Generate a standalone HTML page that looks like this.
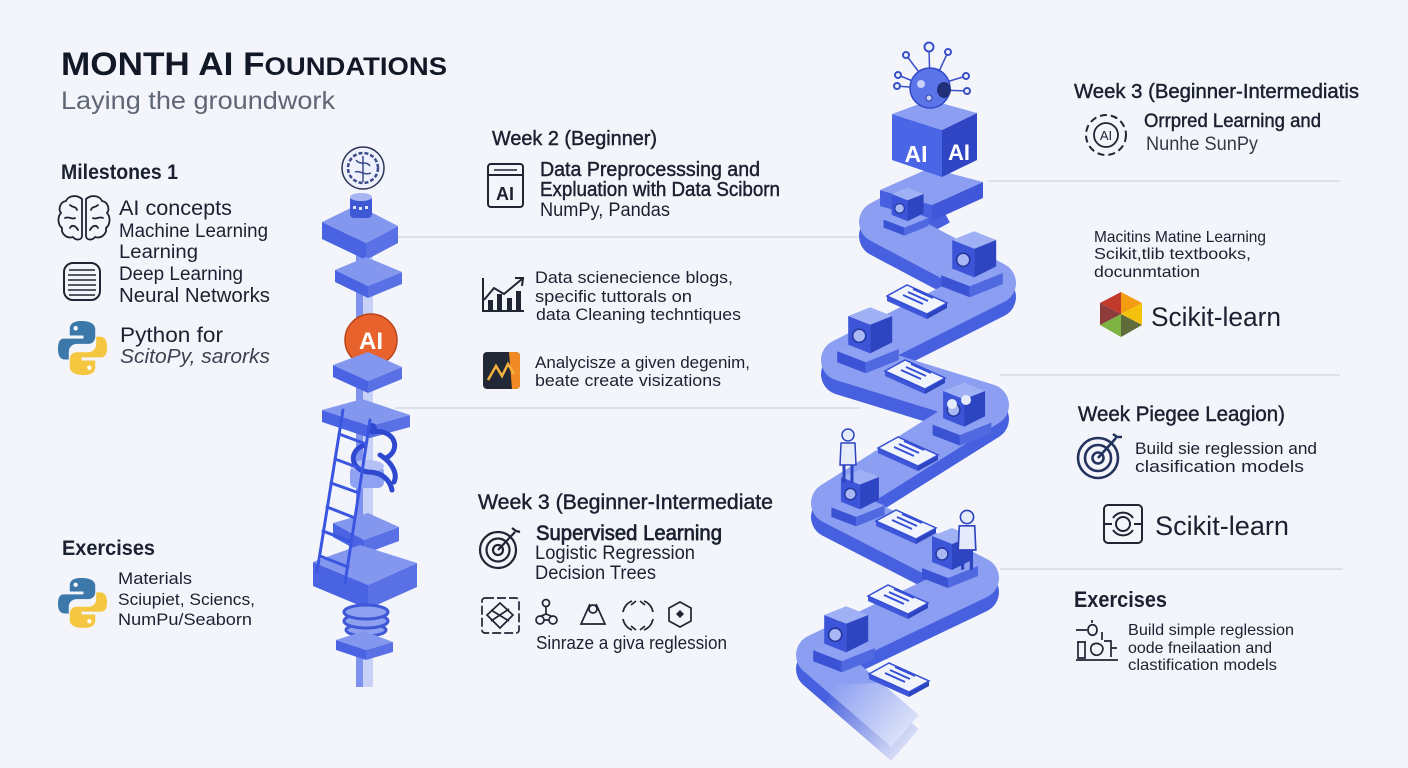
<!DOCTYPE html>
<html><head><meta charset="utf-8">
<style>
html,body{margin:0;padding:0;background:#f3f5fb;width:1408px;height:768px;overflow:hidden}
svg{display:block}
text{font-family:"Liberation Sans",sans-serif;fill:#1b2130}
.m{stroke:#1b2130;stroke-width:0.45}
</style></head><body>
<svg width="1408" height="768" viewBox="0 0 1408 768" xmlns="http://www.w3.org/2000/svg">
<defs>
<g id="mach">
<polygon points="-28,12 2,0 28,10 -2,22" fill="#8fa1f2"/>
<polygon points="-28,12 -2,22 -2,32 -28,22" fill="#3a52d4"/>
<polygon points="-2,22 28,10 28,20 -2,32" fill="#5068e0"/>
<polygon points="-18,-20 2,-28 22,-20 2,-12" fill="#9fb0f5"/>
<polygon points="-18,-20 2,-12 2,14 -18,6" fill="#3c55d8"/>
<polygon points="2,-12 22,-20 22,4 2,14" fill="#2e45c2"/>
<circle cx="-8" cy="-2" r="6" fill="#a9b7f5" stroke="#24389e" stroke-width="1.5"/>
</g>
<g id="paper">
<polygon points="-30,-4 10,14 10,19 -30,1" fill="#3e57da"/>
<polygon points="10,14 30,3 30,8 10,19" fill="#2d44c0"/>
<polygon points="-30,-4 -10,-15 30,3 10,14" fill="#f2f4fd" stroke="#3550d4" stroke-width="1.5"/>
<path d="M-14,-5 L6,4 M-9,-8 L11,1 M-4,-11 L16,-2" stroke="#3550d4" stroke-width="2"/>
</g>
<g id="person">
<circle cx="0" cy="-30" r="6" fill="#e6ebfc" stroke="#2d44c0" stroke-width="1.5"/>
<path d="M-7,-22 L7,-22 L8,0 L-8,0 Z" fill="#e6ebfc" stroke="#2d44c0" stroke-width="1.5"/>
<path d="M-4,0 L-4,18 M4,0 L4,18" stroke="#2d44c0" stroke-width="3"/>
</g>
<g id="py">
<path d="M24,0 C14,0 12,4 12,8 L12,14 L26,14 L26,17 L6,17 C1,17 0,22 0,27 C0,33 2,37 7,37 L11,37 L11,30 C11,25 15,22 19,22 L31,22 C35,22 38,19 38,15 L38,8 C38,3 33,0 24,0 Z" fill="#3c78aa"/>
<circle cx="18" cy="7" r="2.2" fill="#fff"/>
<path d="M26,52 C36,52 38,48 38,44 L38,38 L24,38 L24,35 L44,35 C49,35 50,30 50,25 C50,19 48,15 43,15 L39,15 L39,22 C39,27 35,30 31,30 L19,30 C15,30 12,33 12,37 L12,44 C12,49 17,52 26,52 Z" fill="#f5c640"/>
<circle cx="32" cy="45" r="2.2" fill="#fff"/>
</g>
<linearGradient id="fade" gradientUnits="userSpaceOnUse" x1="835" y1="680" x2="910" y2="742">
<stop offset="0" stop-color="#f3f5fb" stop-opacity="0"/>
<stop offset="1" stop-color="#f3f5fb" stop-opacity="0.85"/>
</linearGradient>
</defs>

<rect width="1408" height="768" fill="#f3f5fb"/>

<g stroke="#d5dae6" stroke-width="1.5">
<line x1="988" y1="181" x2="1340" y2="181"/>
<line x1="395" y1="237" x2="858" y2="237"/>
<line x1="1000" y1="375" x2="1340" y2="375"/>
<line x1="395" y1="408" x2="860" y2="408"/>
<line x1="1000" y1="569" x2="1343" y2="569"/>
</g>

<!-- ===== TOWER ===== -->
<rect x="356" y="225" width="17" height="462" fill="#c8d1f7"/>
<rect x="356" y="225" width="7" height="462" fill="#7f93ee"/>

<polygon points="322,222 366,243 366,260 322,239" fill="#4963e2"/>
<polygon points="366,243 398,226 398,243 366,260" fill="#5a71e6"/>
<polygon points="322,222 357,205 398,226 366,243" fill="#8497ef"/>
<polygon points="335,270 368,286 368,298 335,282" fill="#4963e2"/>
<polygon points="368,286 402,272 402,284 368,298" fill="#5a71e6"/>
<polygon points="335,270 366,257 402,272 368,286" fill="#8497ef"/>
<circle cx="371" cy="340" r="26" fill="#e8622d" stroke="#b8441a" stroke-width="1.5"/>
<text x="371" y="349" font-size="24" font-weight="700" text-anchor="middle" style="fill:#fff">AI</text>
<polygon points="333,365 368,381 368,393 333,377" fill="#4963e2"/>
<polygon points="368,381 402,367 402,379 368,393" fill="#5a71e6"/>
<polygon points="333,365 368,352 402,367 368,381" fill="#8497ef"/>
<polygon points="322,410 370,426 370,438 322,422" fill="#4963e2"/>
<polygon points="370,426 410,415 410,427 370,438" fill="#5a71e6"/>
<polygon points="322,410 362,399 410,415 370,426" fill="#8497ef"/>
<rect x="350" y="466" width="34" height="22" rx="6" fill="#8fa1f2"/>
<ellipse cx="367" cy="466" rx="17" ry="6" fill="#b5c1f6"/>
<path d="M372,432 C395,428 402,450 386,458 M365,445 C348,450 350,470 368,472 C382,472 390,480 392,490 M380,455 C392,462 398,474 394,482" stroke="#2f48d0" stroke-width="5" fill="none" stroke-linecap="round"/>
<circle cx="372" cy="428" r="5" fill="#2f48d0"/>
<polygon points="333,523 364,540 364,554 333,537" fill="#4963e2"/>
<polygon points="364,540 399,527 399,541 364,554" fill="#5a71e6"/>
<polygon points="333,523 368,513 399,527 364,540" fill="#8497ef"/>
<polygon points="313,562 368,585 368,609 313,586" fill="#4963e2"/>
<polygon points="368,585 417,563 417,587 368,609" fill="#5a71e6"/>
<polygon points="313,562 360,545 417,563 368,585" fill="#8497ef"/>
<g stroke="#3a56e0" stroke-width="3" stroke-linecap="round">
<line x1="343" y1="410" x2="317" y2="572"/>
<line x1="370" y1="420" x2="345" y2="583"/>
<line x1="339" y1="434" x2="366" y2="444"/>
<line x1="335" y1="459" x2="362" y2="469"/>
<line x1="331" y1="483" x2="359" y2="493"/>
<line x1="327" y1="507" x2="355" y2="518"/>
<line x1="323" y1="531" x2="351" y2="542"/>
<line x1="320" y1="556" x2="348" y2="567"/>
</g>
<g fill="#8ea0f0" stroke="#3f58d6" stroke-width="3">
<ellipse cx="366" cy="630" rx="20" ry="6"/>
<ellipse cx="366" cy="621" rx="22" ry="7"/>
<ellipse cx="366" cy="612" rx="22" ry="7"/>
</g>
<polygon points="336,640 366,650 366,660 336,650" fill="#4963e2"/>
<polygon points="366,650 393,642 393,652 366,660" fill="#5a71e6"/>
<polygon points="336,640 364,631 393,642 366,650" fill="#8497ef"/>
<rect x="350" y="196" width="22" height="22" rx="4" fill="#3f58d6"/>
<ellipse cx="361" cy="197" rx="11" ry="4" fill="#a9b6f4"/>
<g fill="#dfe5fb"><rect x="353" y="206" width="3" height="3"/><rect x="359" y="207" width="3" height="3"/><rect x="365" y="206" width="3" height="3"/></g>
<circle cx="363" cy="168" r="21" fill="#eef1fb" stroke="#2c3557" stroke-width="1.5"/>
<circle cx="363" cy="168" r="15" fill="none" stroke="#3a4a8a" stroke-width="2.5" stroke-dasharray="4 2"/>
<path d="M356,160 C360,166 366,160 370,166 M355,172 C360,170 364,176 371,173 M363,156 L363,182" stroke="#3a4a8a" stroke-width="1.5" fill="none"/>

<!-- ===== RIBBON PATH ===== -->
<polyline points="940,204 880,236 995,297 842,374 988,419 832,517 978,592 817,669 905,745" fill="none" stroke="#4760df" stroke-width="42" stroke-linejoin="round"/>
<polyline points="940,190 880,222 995,283 842,360 988,405 832,503 978,578 817,655 905,731" fill="none" stroke="#8b9ef1" stroke-width="42" stroke-linejoin="round"/>
<!-- start tile (isometric block under cube) -->
<polygon points="932,205 983,182 983,198 932,221" fill="#3f57d8"/>
<polygon points="880,190 932,205 932,221 880,206" fill="#4760df"/>
<polygon points="880,190 930,168 983,182 932,205" fill="#8b9ef1"/>
<polygon points="835,685 930,680 960,768 790,768" fill="url(#fade)"/>

<use href="#mach" transform="translate(906,210) scale(0.8)"/>
<use href="#mach" transform="translate(972,262) scale(1.1)"/>
<use href="#paper" transform="translate(917,300)"/>
<use href="#mach" transform="translate(868,338) scale(1.1)"/>
<use href="#paper" transform="translate(915,375)"/>
<use href="#mach" transform="translate(962,412) scale(1.05)"/>
<circle cx="952" cy="404" r="5" fill="#e6ebfc"/><circle cx="966" cy="400" r="5" fill="#e6ebfc"/>
<use href="#mach" transform="translate(858,496) scale(0.95)"/>
<use href="#person" transform="translate(848,465)"/>
<use href="#paper" transform="translate(908,452)"/>
<use href="#paper" transform="translate(906,525)"/>
<use href="#mach" transform="translate(950,556) scale(1)"/>
<use href="#person" transform="translate(967,550) scale(1.1)"/>
<use href="#paper" transform="translate(898,600)"/>
<use href="#mach" transform="translate(844,637) scale(1.1)"/>
<use href="#paper" transform="translate(899,678)"/>

<!-- AI cube & robot -->
<polygon points="892,114 942,130 942,177 892,160" fill="#4a66e6"/>
<polygon points="942,130 977,113 977,160 942,177" fill="#2f45c4"/>
<polygon points="892,114 930,100 977,113 942,130" fill="#8c9ef2"/>
<text x="916" y="162" font-size="23" font-weight="700" text-anchor="middle" style="fill:#fff">AI</text>
<text x="959" y="160" font-size="22" font-weight="700" text-anchor="middle" style="fill:#fff">AI</text>
<g stroke="#3a50c8" stroke-width="1.5">
<line x1="930" y1="88" x2="929" y2="47"/><line x1="935" y1="80" x2="948" y2="52"/>
<line x1="925" y1="80" x2="906" y2="55"/><line x1="920" y1="84" x2="898" y2="75"/>
<line x1="920" y1="88" x2="897" y2="86"/><line x1="940" y1="84" x2="966" y2="76"/>
<line x1="940" y1="90" x2="967" y2="91"/>
</g>
<circle cx="930" cy="88" r="20" fill="#5b74e8" stroke="#3148c4" stroke-width="1.5"/>
<ellipse cx="944" cy="90" rx="7" ry="8" fill="#22307a"/>
<circle cx="921" cy="84" r="4" fill="#c9d3fa"/>
<circle cx="929" cy="98" r="3" fill="#c9d3fa" stroke="#2a3ea8"/>
<g fill="#eef1fb" stroke="#3a50c8" stroke-width="2">
<circle cx="929" cy="47" r="4.5"/><circle cx="948" cy="52" r="3"/><circle cx="906" cy="55" r="3"/>
<circle cx="898" cy="75" r="3"/><circle cx="897" cy="86" r="3"/><circle cx="966" cy="76" r="3"/><circle cx="967" cy="91" r="3"/>
</g>

<!-- ===== LEFT TEXT ===== -->
<text x="61" y="75" font-size="32" font-weight="700" textLength="386" lengthAdjust="spacingAndGlyphs" style="fill:#121826">MONTH AI F<tspan font-size="25">OUNDATIONS</tspan></text>
<text x="61" y="109" font-size="25" textLength="274" lengthAdjust="spacingAndGlyphs" style="fill:#5f6675">Laying the groundwork</text>
<text x="61" y="179" font-size="21" font-weight="700" textLength="117" lengthAdjust="spacingAndGlyphs">Milestones 1</text>

<g fill="none" stroke="#1f2533" stroke-width="1.8" stroke-linecap="round">
<path d="M82,199 C76,194 68,196 66,201 C60,202 58,209 61,213 C57,217 58,225 62,228 C61,234 67,239 73,237 C76,241 82,240 82,236 Z"/>
<path d="M86,199 C92,194 100,196 102,201 C108,202 110,209 107,213 C111,217 110,225 106,228 C107,234 101,239 95,237 C92,241 86,240 86,236 Z"/>
<path d="M70,205 C73,208 76,206 77,210 M65,218 C69,216 72,220 75,218 M70,228 C72,224 76,226 78,230 M98,205 C95,208 92,206 91,210 M103,218 C99,216 96,220 93,218 M98,228 C96,224 92,226 90,230"/>
</g>
<text x="119" y="215" font-size="21" textLength="113" lengthAdjust="spacingAndGlyphs">AI concepts</text>
<text x="119" y="237" font-size="19" textLength="149" lengthAdjust="spacingAndGlyphs">Machine Learning</text>
<text x="119" y="258" font-size="19" textLength="79" lengthAdjust="spacingAndGlyphs">Learning</text>
<rect x="64" y="263" width="36" height="37" rx="9" fill="none" stroke="#1f2533" stroke-width="2"/>
<path d="M69,270 H95 M68,275 H96 M68,280 H96 M68,285 H96 M68,290 H96 M69,295 H95" stroke="#1f2533" stroke-width="1.6"/>
<text x="119" y="280" font-size="19" textLength="124" lengthAdjust="spacingAndGlyphs">Deep Learning</text>
<text x="119" y="302" font-size="20" textLength="151" lengthAdjust="spacingAndGlyphs">Neural Networks</text>
<use href="#py" transform="translate(58,321) scale(0.98,1.04)"/>
<text x="120" y="342" font-size="21" textLength="103" lengthAdjust="spacingAndGlyphs">Python for</text>
<text x="120" y="363" font-size="20" font-style="italic" textLength="150" lengthAdjust="spacingAndGlyphs" style="fill:#3b4252">ScitoPy, sarorks</text>

<text x="62" y="555" font-size="21" font-weight="700" textLength="93" lengthAdjust="spacingAndGlyphs">Exercises</text>
<use href="#py" transform="translate(58,578) scale(0.98,0.96)"/>
<text x="118" y="584" font-size="17" textLength="74" lengthAdjust="spacingAndGlyphs">Materials</text>
<text x="118" y="605" font-size="17" textLength="137" lengthAdjust="spacingAndGlyphs">Sciupiet, Sciencs,</text>
<text x="118" y="625" font-size="17" textLength="134" lengthAdjust="spacingAndGlyphs">NumPu/Seaborn</text>

<!-- ===== MIDDLE TEXT ===== -->
<text class="m" x="492" y="145" font-size="20" textLength="165" lengthAdjust="spacingAndGlyphs">Week 2 (Beginner)</text>
<rect x="488" y="164" width="35" height="43" rx="3" fill="none" stroke="#1f2533" stroke-width="2"/>
<line x1="488" y1="175" x2="523" y2="175" stroke="#1f2533" stroke-width="2"/>
<line x1="494" y1="170" x2="517" y2="170" stroke="#1f2533" stroke-width="1.5"/>
<text x="505" y="200" font-size="18" font-weight="700" text-anchor="middle">AI</text>
<text class="m" x="540" y="176" font-size="20" textLength="220" lengthAdjust="spacingAndGlyphs">Data Preprocesssing and</text>
<text class="m" x="540" y="196" font-size="20" textLength="240" lengthAdjust="spacingAndGlyphs">Expluation with Data Sciborn</text>
<text x="540" y="216" font-size="19" textLength="130" lengthAdjust="spacingAndGlyphs">NumPy, Pandas</text>

<g stroke="#1f2533" stroke-width="2" fill="none">
<path d="M483,278 L483,311 L524,311"/>
<path d="M484,300 L494,288 L504,294 L522,279"/>
<path d="M515,278 L523,278 L522,286"/>
</g>
<g fill="#1f2533"><rect x="488" y="300" width="5" height="11"/><rect x="497" y="294" width="5" height="17"/><rect x="507" y="298" width="5" height="13"/><rect x="516" y="291" width="5" height="20"/></g>
<text x="535" y="283" font-size="17" textLength="198" lengthAdjust="spacingAndGlyphs">Data scienecience blogs,</text>
<text x="535" y="302" font-size="17" textLength="157" lengthAdjust="spacingAndGlyphs">specific tuttorals on</text>
<text x="536" y="320" font-size="17" textLength="205" lengthAdjust="spacingAndGlyphs">data Cleaning techntiques</text>

<rect x="483" y="352" width="37" height="37" rx="4" fill="#222836"/>
<path d="M509,352 L516,352 Q520,352 520,356 L520,385 Q520,389 516,389 L512,389 Z" fill="#f08a24"/>
<path d="M488,380 L496,366 L502,376 L508,364 L514,374" stroke="#f6b23c" stroke-width="2.5" fill="none"/>
<text x="535" y="368" font-size="17" textLength="215" lengthAdjust="spacingAndGlyphs">Analycisze a given degenim,</text>
<text x="535" y="386" font-size="17" textLength="186" lengthAdjust="spacingAndGlyphs">beate create visizations</text>

<text class="m" x="478" y="509" font-size="21" textLength="295" lengthAdjust="spacingAndGlyphs">Week 3 (Beginner-Intermediate</text>
<g fill="none" stroke="#1f2533" stroke-width="2.2">
<circle cx="498" cy="550" r="18"/><circle cx="498" cy="550" r="11.5"/><circle cx="498" cy="550" r="5"/>
<path d="M498,550 L515,532 M512,528 L516,531 L520,532"/>
</g>
<text class="m" x="536" y="540" font-size="21" textLength="186" lengthAdjust="spacingAndGlyphs" style="stroke-width:0.7">Supervised Learning</text>
<text x="535" y="559" font-size="19" textLength="160" lengthAdjust="spacingAndGlyphs">Logistic Regression</text>
<text x="535" y="579" font-size="19" textLength="121" lengthAdjust="spacingAndGlyphs">Decision Trees</text>
<g fill="none" stroke="#1f2533" stroke-width="1.7">
<rect x="482" y="598" width="37" height="35" rx="3" stroke-dasharray="9 3"/>
<polygon points="500,603 513,615 500,628 487,615"/>
<path d="M491,610 L509,621 M509,609 L491,621"/>
<circle cx="546" cy="603" r="3.5"/><circle cx="540" cy="620" r="4"/><circle cx="553" cy="620" r="4"/>
<path d="M546,607 L546,614 L541,616 M546,614 L551,616 M544,620 L549,620"/>
<path d="M590,604 L581,624 L605,624 L596,604"/><circle cx="593" cy="609" r="4"/>
<path d="M632,601 C627,603 624,607 623,612 M644,601 C649,603 652,607 653,612 M623,619 C624,624 627,628 632,630 M653,619 C652,624 649,628 644,630"/>
<path d="M631,605 L636,601 M645,605 L640,601 M631,626 L636,630 M645,626 L640,630"/>
<polygon points="680,602 691,608 691,621 680,627 669,621 669,608"/>
</g>
<polygon points="680,610 684,614 680,618 676,614" fill="#1f2533"/>
<text x="536" y="649" font-size="18" textLength="191" lengthAdjust="spacingAndGlyphs">Sinraze a giva reglession</text>

<!-- ===== RIGHT TEXT ===== -->
<text class="m" x="1074" y="98" font-size="20" textLength="285" lengthAdjust="spacingAndGlyphs">Week 3 (Beginner-Intermediatis</text>
<circle cx="1106" cy="135" r="20" fill="none" stroke="#1f2533" stroke-width="2" stroke-dasharray="7 4"/>
<circle cx="1106" cy="135" r="12" fill="none" stroke="#1f2533" stroke-width="1.8"/>
<text x="1106" y="140" font-size="13" text-anchor="middle">AI</text>
<text class="m" x="1144" y="127" font-size="19" textLength="177" lengthAdjust="spacingAndGlyphs">Orrpred Learning and</text>
<text x="1146" y="150" font-size="19" textLength="112" lengthAdjust="spacingAndGlyphs" style="fill:#333a48">Nunhe SunPy</text>

<text x="1094" y="242" font-size="16" textLength="172" lengthAdjust="spacingAndGlyphs">Macitins Matine Learning</text>
<text x="1094" y="259" font-size="16" textLength="157" lengthAdjust="spacingAndGlyphs">Scikit,tlib textbooks,</text>
<text x="1094" y="277" font-size="16" textLength="106" lengthAdjust="spacingAndGlyphs">docunmtation</text>
<polygon points="1100,303 1121,292 1121,314" fill="#c0392b"/>
<polygon points="1121,292 1142,303 1121,314" fill="#f39c12"/>
<polygon points="1142,303 1142,325 1121,314" fill="#f4c20d"/>
<polygon points="1142,325 1121,337 1121,314" fill="#5f6b3a"/>
<polygon points="1121,337 1100,325 1121,314" fill="#7cb342"/>
<polygon points="1100,325 1100,303 1121,314" fill="#8e3b3b"/>
<text x="1151" y="326" font-size="27" textLength="130" lengthAdjust="spacingAndGlyphs">Scikit-learn</text>

<text class="m" x="1078" y="421" font-size="21" textLength="207" lengthAdjust="spacingAndGlyphs">Week Piegee Leagion)</text>
<g fill="none" stroke="#24325e" stroke-width="2.6">
<circle cx="1098" cy="458" r="20"/><circle cx="1098" cy="458" r="13"/><circle cx="1098" cy="458" r="5.5"/>
<path d="M1098,458 L1116,438 M1113,434 L1117,437 L1122,437"/>
</g>
<text x="1135" y="454" font-size="17" textLength="182" lengthAdjust="spacingAndGlyphs">Build sie reglession and</text>
<text x="1135" y="472" font-size="17" textLength="169" lengthAdjust="spacingAndGlyphs">clasification models</text>
<g fill="none" stroke="#1f2533" stroke-width="2">
<rect x="1104" y="505" width="38" height="38" rx="4"/>
<circle cx="1123" cy="524" r="7"/>
<path d="M1113,518 A12,12 0 0 1 1133,518 M1133,530 A12,12 0 0 1 1113,530"/>
<path d="M1104,524 H1112 M1134,524 H1142"/>
</g>
<text x="1155" y="535" font-size="27" textLength="134" lengthAdjust="spacingAndGlyphs">Scikit-learn</text>

<text x="1074" y="607" font-size="22" font-weight="700" textLength="93" lengthAdjust="spacingAndGlyphs">Exercises</text>
<g fill="none" stroke="#1f2533" stroke-width="1.7">
<path d="M1076,630 L1087,630 M1088,630 C1088,623 1097,623 1097,630 C1097,637 1088,637 1088,630 M1092,623 L1092,620"/>
<path d="M1102,632 L1102,640"/>
<path d="M1076,660 L1118,660"/>
<path d="M1078,642 L1078,658 L1085,658 L1085,642 Z M1077,642 H1086"/>
<path d="M1091,647 C1089,656 1101,659 1103,649 C1103,643 1093,641 1091,647"/>
<path d="M1104,641 L1111,641 L1111,657 M1111,648 L1117,648"/>
</g>
<text x="1128" y="635" font-size="16" textLength="166" lengthAdjust="spacingAndGlyphs">Build simple reglession</text>
<text x="1128" y="653" font-size="16" textLength="144" lengthAdjust="spacingAndGlyphs">oode fneilaation and</text>
<text x="1128" y="670" font-size="16" textLength="149" lengthAdjust="spacingAndGlyphs">clastification models</text>
</svg>
</body></html>
